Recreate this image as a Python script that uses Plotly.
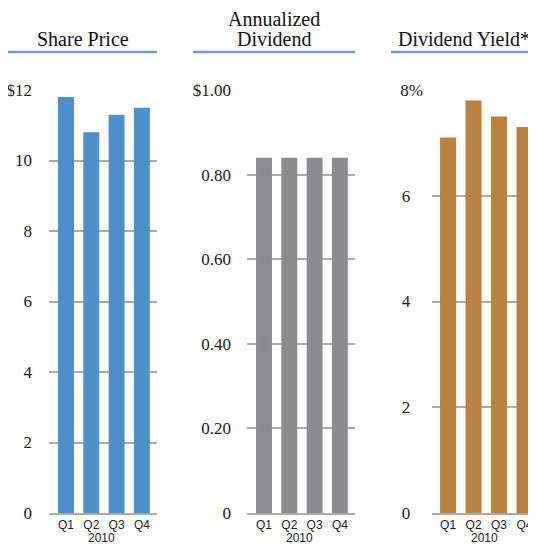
import plotly.graph_objects as go

quarters = ["Q1", "Q2", "Q3", "Q4"]
share_price = [11.8, 10.8, 11.3, 11.5]
annual_dividend = [0.84, 0.84, 0.84, 0.84]
dividend_yield = [7.1, 7.8, 7.5, 7.3]

titles = ["Share Price", "Annualized", "Dividend", "Dividend Yield*"]
year_label = "2010"

sp_ticks = [0, 2, 4, 6, 8, 10, 12]
sp_text = ["0", "2", "4", "6", "8", "10", "$12"]
dv_ticks = [0, 0.2, 0.4, 0.6, 0.8, 1.0]
dv_text = ["0", "0.20", "0.40", "0.60", "0.80", "$1.00"]
yl_ticks = [0, 2, 4, 6, 8]
pad = "\u00a0\u00a0\u00a0"
yl_text = ["0" + pad, "2" + pad, "4" + pad, "6" + pad, "8%"]

# The page body has an 8px default margin; the figure is sized and
# positioned so that screen coordinates match the reference.
OFF = 8
SW, SH = 536, 546
W, H = SW - OFF, SH - OFF
BLUE = "#4F8FCC"
GRAY = "#8C8C8E"
BROWN = "#BA813F"
GRID = "#ABABAB"
ULINE = "#7099CF"
SERIF = "Liberation Serif"
SANS = "Liberation Sans"


def px(x):
    return (x - OFF) / W


def py(y):
    return 1 - (y - OFF) / H


ydom = [py(513), py(90)]

fig = go.Figure()
fig.add_trace(go.Bar(x=quarters, y=share_price, marker=dict(color=BLUE, line=dict(width=0)),
                     width=0.63, xaxis="x", yaxis="y"))
fig.add_trace(go.Bar(x=quarters, y=annual_dividend, marker=dict(color=GRAY, line=dict(width=0)),
                     width=0.63, xaxis="x2", yaxis="y2"))
fig.add_trace(go.Bar(x=quarters, y=dividend_yield, marker=dict(color=BROWN, line=dict(width=0)),
                     width=0.63, xaxis="x3", yaxis="y3"))


def xax(dom, rng, anchor):
    return dict(domain=dom, range=rng, anchor=anchor, type="category", automargin=False,
                showgrid=False, zeroline=False, showline=True, linecolor=GRID, linewidth=2,
                ticks="", tickfont=dict(family=SANS, size=12, color="#222"),
                fixedrange=True)


def yax(rng, tv, tt, anchor, standoff):
    return dict(domain=ydom, range=rng, anchor=anchor, tickvals=tv, ticktext=tt, automargin=False,
                showgrid=True, gridcolor=GRID, gridwidth=2, zeroline=False, showline=False,
                ticks="", ticklabelstandoff=standoff,
                tickfont=dict(family=SERIF, size=17, color="#1a1a1a"), fixedrange=True)


fig.update_layout(
    width=W, height=H,
    margin=dict(l=0, r=0, t=0, b=0, pad=0, autoexpand=False),
    paper_bgcolor="white", plot_bgcolor="white",
    showlegend=False, bargap=0.4,
    xaxis=xax([px(49), px(157)], [-0.672, 3.597], "y"),
    xaxis2=xax([px(247), px(355)], [-0.672, 3.597], "y2"),
    xaxis3=xax([px(432), 1.0], [-0.63, 3.45], "y3"),
    yaxis=yax([0, 12], sp_ticks, sp_text, "x", 16),
    yaxis2=yax([0, 1.0], dv_ticks, dv_text, "x2", 15),
    yaxis3=yax([0, 8], yl_ticks, yl_text, "x3", 8),
)

title_specs = [
    (titles[0], 83, 47),
    (titles[1], 274, 27),
    (titles[2], 274, 47),
    (titles[3], 464, 47),
]
for txt, cx, base in title_specs:
    fig.add_annotation(text=txt, x=px(cx), y=py(base + 5), xref="paper", yref="paper",
                       xanchor="center", yanchor="bottom", showarrow=False,
                       font=dict(family=SERIF, size=20, color="#111"))

# year label under each panel's quarter labels (axis title)
for cx in [101, 299, 484]:
    fig.add_annotation(text=year_label, x=px(cx), y=py(546), xref="paper", yref="paper",
                       xanchor="center", yanchor="bottom", showarrow=False, borderpad=0,
                       font=dict(family=SANS, size=12, color="#222"))

for x0, x1 in [(8, 157), (193, 355), (391, 536)]:
    fig.add_shape(type="line", xref="paper", yref="paper", x0=px(x0), x1=px(x1),
                  y0=py(52), y1=py(52), line=dict(color=ULINE, width=2.5))

fig.write_html("out.html")
